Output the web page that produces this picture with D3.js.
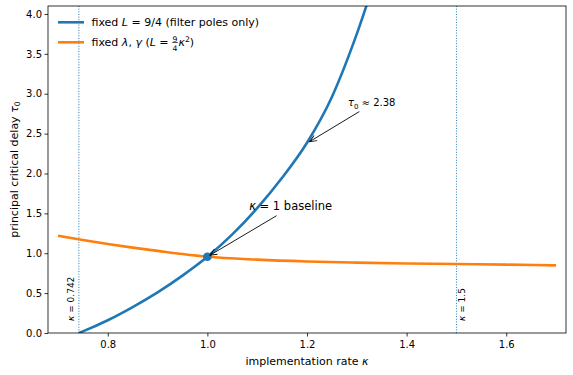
<!DOCTYPE html>
<html>
<head>
<meta charset="utf-8">
<script src="https://cdn.jsdelivr.net/npm/d3@7"></script>
<style>
  body { margin: 0; background: #fff; }
  svg { display: block; font-family: "DejaVu Sans", sans-serif; }
</style>
</head>
<body>
<svg id="chart" width="573" height="375"></svg>
<script>
// blue: fixed L = 9/4
const kappaBlue = [0.742, 0.75, 0.8, 0.85, 0.9, 0.95, 1.0, 1.05, 1.1, 1.15, 1.2, 1.25, 1.3, 1.35];
const tauBlue   = [0, 0.02, 0.16, 0.325, 0.51, 0.72, 0.956, 1.236, 1.566, 1.946, 2.386, 2.96, 3.75, 4.7];

// orange: fixed lambda, gamma
const kappaOrange = [0.7, 0.75, 0.8, 0.85, 0.9, 0.95, 1.0, 1.1, 1.2, 1.3, 1.4, 1.5, 1.6, 1.7];
const tauOrange   = [1.22, 1.165, 1.115, 1.07, 1.03, 0.99, 0.956, 0.92, 0.897, 0.882, 0.872, 0.865, 0.857, 0.848];

const xTicks = [0.8, 1.0, 1.2, 1.4, 1.6];
const yTicks = [0, 0.5, 1.0, 1.5, 2.0, 2.5, 3.0, 3.5, 4.0];
const vLines = [0.742, 1.5];
const vLabels = [" = 0.742", " = 1.5"];
const baselinePoint = [1.0, 0.956];

const blue = "#1f77b4", orange = "#ff7f0e";

const svg = d3.select("#chart");
const margin = {left: 48, right: 7, top: 6, bottom: 42};
const W = 573, H = 375;

const x = d3.scaleLinear().domain([0.68, 1.72]).range([margin.left, W - margin.right]);
const y = d3.scaleLinear().domain([0, 4.1]).range([H - margin.bottom, margin.top]);

const defs = svg.append("defs");
defs.append("clipPath").attr("id", "clip")
    .append("rect")
    .attr("x", margin.left).attr("y", margin.top)
    .attr("width", W - margin.left - margin.right)
    .attr("height", H - margin.top - margin.bottom);

defs.append("marker")
    .attr("id", "arrow")
    .attr("markerUnits", "userSpaceOnUse")
    .attr("markerWidth", 12).attr("markerHeight", 12)
    .attr("viewBox", "-10 -6 12 12")
    .attr("refX", 0).attr("refY", 0)
    .attr("orient", "auto")
    .append("path")
    .attr("d", "M-7,-3 L0,0 L-7,3")
    .attr("fill", "none")
    .attr("stroke", "#000")
    .attr("stroke-width", 0.9);

const plot = svg.append("g").attr("clip-path", "url(#clip)");

// vertical dotted lines
plot.selectAll("line.vline")
    .data(vLines).enter()
    .append("line")
    .attr("class", "vline")
    .attr("x1", d => x(d)).attr("x2", d => x(d))
    .attr("y1", y(0)).attr("y2", y(4.1))
    .style("stroke", blue)
    .style("stroke-width", 1)
    .style("stroke-dasharray", "1,1.65");

const line = d3.line().x(d => x(d[0])).y(d => y(d[1])).curve(d3.curveMonotoneX);

plot.append("path")
    .datum(kappaBlue.map((k, i) => [k, tauBlue[i]]))
    .attr("d", line)
    .style("fill", "none").style("stroke", blue).style("stroke-width", 2.6);

plot.append("path")
    .datum(kappaOrange.map((k, i) => [k, tauOrange[i]]))
    .attr("d", line)
    .style("fill", "none").style("stroke", orange).style("stroke-width", 2.6);

plot.append("circle")
    .attr("cx", x(baselinePoint[0])).attr("cy", y(baselinePoint[1]))
    .attr("r", 4.3)
    .style("fill", blue);

// vline labels
const vl = svg.selectAll("text.vlabel")
    .data(vLines).enter()
    .append("text")
    .attr("class", "vlabel")
    .attr("transform", (d, i) => `translate(${x(d) + (i === 0 ? -4.5 : 9)},${y(0) - 12}) rotate(-90)`)
    .attr("font-size", 9);
vl.append("tspan").attr("font-style", "italic").text("κ");
vl.append("tspan").text((d, i) => vLabels[i]);

// annotations
const annotations = [
    {tip: [1.0, 0.956], from: [1.139, 1.471], pos: [1.167, 1.6], size: 11.5, main: "κ", rest: " = 1 baseline"},
    {tip: [1.2, 2.38], from: [1.305, 2.776], pos: [1.33, 2.89], size: 10, main: "τ", sub: "0", rest: " ≈ 2.38"}
];

annotations.forEach(a => {
    const x0 = x(a.from[0]), y0 = y(a.from[1]);
    let x1 = x(a.tip[0]), y1 = y(a.tip[1]);
    const dx = x1 - x0, dy = y1 - y0, len = Math.hypot(dx, dy);
    const shrink = 3;
    x1 -= dx / len * shrink; y1 -= dy / len * shrink;
    svg.append("line")
        .attr("x1", x0).attr("y1", y0).attr("x2", x1).attr("y2", y1)
        .style("stroke", "#000").style("stroke-width", 0.9)
        .attr("marker-end", "url(#arrow)");

    const t = svg.append("text")
        .attr("x", x(a.pos[0])).attr("y", y(a.pos[1]) + a.size * 0.36)
        .attr("text-anchor", "middle")
        .attr("font-size", a.size);
    t.append("tspan").attr("font-style", "italic").text(a.main);
    if (a.sub) {
        t.append("tspan").attr("font-size", a.size * 0.7).attr("dy", 2.5).text(a.sub);
        t.append("tspan").attr("dy", -2.5).text(a.rest);
    } else {
        t.append("tspan").text(a.rest);
    }
});

// axes
const xAxis = d3.axisBottom(x).tickValues(xTicks).tickFormat(d3.format(".1f")).tickSize(3.5).tickPadding(4);
const yAxis = d3.axisLeft(y).tickValues(yTicks).tickFormat(d3.format(".1f")).tickSize(3.5).tickPadding(2.5);

svg.append("g").attr("transform", `translate(0,${y(0)})`).call(xAxis)
    .call(g => g.select(".domain").remove())
    .selectAll("text").attr("font-size", 10).attr("font-family", "DejaVu Sans").attr("fill", "#000");
svg.append("g").attr("transform", `translate(${margin.left},0)`).call(yAxis)
    .call(g => g.select(".domain").remove())
    .selectAll("text").attr("font-size", 10).attr("font-family", "DejaVu Sans").attr("fill", "#000");
svg.selectAll(".tick line").style("stroke", "#000").style("stroke-width", 0.8);

svg.append("rect")
    .attr("x", margin.left).attr("y", margin.top)
    .attr("width", W - margin.left - margin.right)
    .attr("height", H - margin.top - margin.bottom)
    .style("fill", "none").style("stroke", "#000").style("stroke-width", 0.8);

// axis labels
const xl = svg.append("text")
    .attr("x", (margin.left + W - margin.right) / 2).attr("y", 365)
    .attr("text-anchor", "middle").attr("font-size", 11);
xl.append("tspan").text("implementation rate ");
xl.append("tspan").attr("font-style", "italic").text("κ");

const yl = svg.append("text")
    .attr("transform", `translate(17.5,${(margin.top + H - margin.bottom) / 2}) rotate(-90)`)
    .attr("text-anchor", "middle").attr("font-size", 11);
yl.append("tspan").text("principal critical delay ");
yl.append("tspan").attr("font-style", "italic").text("τ");
yl.append("tspan").attr("font-size", 7.7).attr("dy", 2.5).text("0");

// legend
const legend = svg.append("g");
const legendRows = [22.3, 42.3];
const lfs = 11;
legend.selectAll("line")
    .data([blue, orange]).enter()
    .append("line")
    .attr("x1", 58).attr("x2", 84)
    .attr("y1", (d, i) => legendRows[i]).attr("y2", (d, i) => legendRows[i])
    .style("stroke", d => d).style("stroke-width", 2.6);

const l1 = legend.append("text").attr("x", 91.5).attr("y", legendRows[0] + 4).attr("font-size", lfs);
l1.append("tspan").text("fixed ");
l1.append("tspan").attr("font-style", "italic").text("L");
l1.append("tspan").text(" = 9/4 (filter poles only)");

const l2 = legend.append("text").attr("x", 91.5).attr("y", legendRows[1] + 4).attr("font-size", lfs);
l2.append("tspan").text("fixed ");
l2.append("tspan").attr("font-style", "italic").text("λ");
l2.append("tspan").text(", ");
l2.append("tspan").attr("font-style", "italic").text("γ");
l2.append("tspan").text(" (");
l2.append("tspan").attr("font-style", "italic").text("L");
l2.append("tspan").text(" = ");
l2.append("tspan").attr("font-size", 7.7).attr("dy", -4.8).attr("dx", 0.5).text("9");
l2.append("tspan").attr("font-size", 7.7).attr("dy", 9.4).attr("dx", -4.9).text("4");
l2.append("tspan").attr("font-style", "italic").attr("dy", -4.6).attr("dx", 1).text("κ");
l2.append("tspan").attr("font-size", 7.7).attr("dy", -4.3).text("2");
l2.append("tspan").attr("dy", 4.3).text(")");

// fraction bar
const fullText = l2.text();
const idx = fullText.indexOf("9");
const ext = l2.node().getExtentOfChar(idx);
legend.append("line")
    .attr("x1", ext.x - 0.3).attr("x2", ext.x + ext.width + 0.3)
    .attr("y1", legendRows[1] + 0.2).attr("y2", legendRows[1] + 0.2)
    .style("stroke", "#000").style("stroke-width", 0.7);
</script>
</body>
</html>
